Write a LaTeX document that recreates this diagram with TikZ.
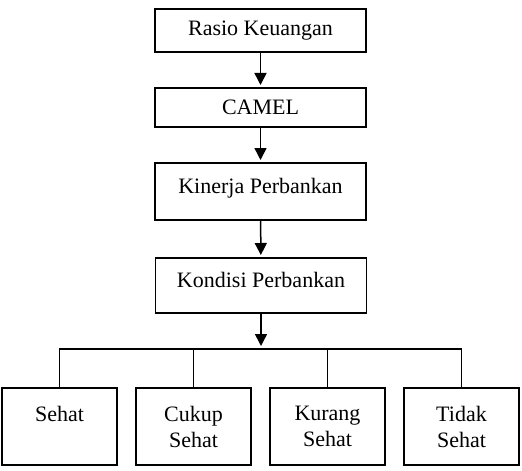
\documentclass[tikz,border=0pt]{standalone}
\usepackage{fontspec}
\setmainfont{Liberation Serif}
\usepackage{tikz}
\usetikzlibrary{arrows.meta,positioning}
\tikzset{
    stage/.style={draw, line width=0.75pt, minimum width=105.5pt, align=center,
    font=\fontsize{11}{13}\selectfont, inner sep=2pt, outer sep=0pt},
    verdict/.style={draw, line width=0.75pt, minimum width=57.5pt, minimum height=38.5pt,
    align=center, font=\fontsize{11}{13}\selectfont, inner sep=2pt, outer sep=0pt},
    flow/.style={line width=0.75pt, -{Triangle[width=6pt,length=6pt]}, shorten >=1.5pt},
    branch/.style={line width=0.75pt},
}

\begin{document}
\begin{tikzpicture}[x=0.5pt, y=-0.5pt, node distance=9.5pt]
            \useasboundingbox (0,0) rectangle (522,470);
            % --- chain of boxes ---
            \node[stage, minimum height=21.5pt] (rasio) at (260.5,30.5) {Rasio Keuangan};
            \node[stage, minimum height=19.5pt] (camel) at (260.5,107.5) {CAMEL};
            \node[stage, minimum height=28.5pt, text height=7pt, text depth=5.5pt] (kinerja) at (260.5,191.5) {Kinerja Perbankan};
            \node[stage, minimum height=27.5pt, text height=7pt, text depth=5.5pt] (kondisi) at (261,285.5) {Kondisi Perbankan};
            \draw[flow] (rasio) -- (camel);
            \draw[flow] (camel) -- (kinerja);
            \draw[flow] (kinerja) -- (kondisi);
            % --- health categories ---
            \node[verdict, anchor=north west] (sehat) at (2,388) {Sehat\\\mbox{}};
            \node[verdict, right=of sehat] (cukup) {Cukup\\Sehat};
            \node[verdict, right=of cukup] (kurang) {Kurang\\Sehat};
            \node[verdict, right=of kurang] (tidak) {Tidak\\Sehat};
            \coordinate (split) at (261,349);
            \draw[flow] (kondisi) -- (split);
            \draw[branch] (sehat.north) |- (split) -| (tidak.north);
            \draw[branch] (cukup.north) -- (cukup.north |- split);
            \draw[branch] (kurang.north) -- (kurang.north |- split);
        \end{tikzpicture}
\end{document}
